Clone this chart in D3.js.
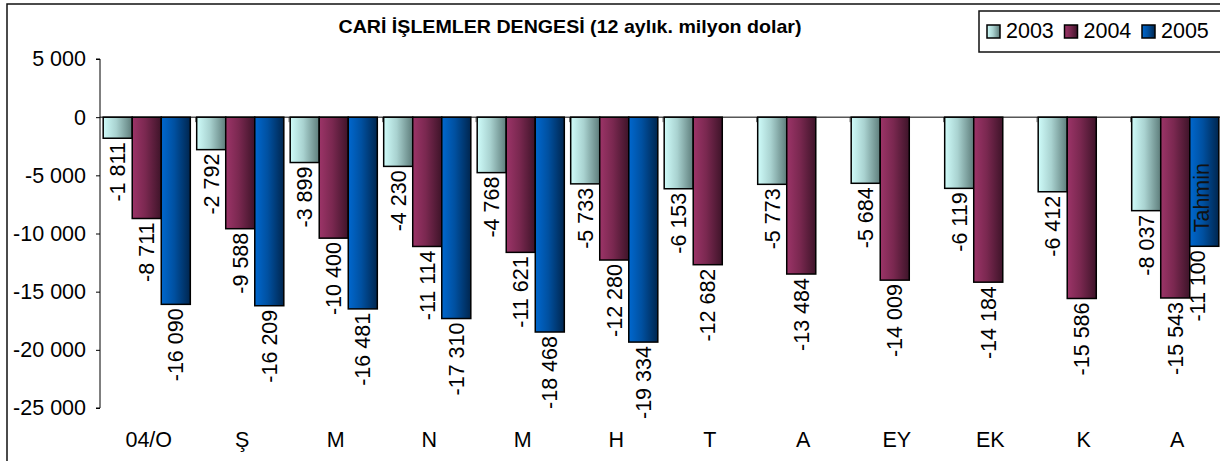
<!doctype html>
<html>
<head>
<meta charset="utf-8">
<script src="https://d3js.org/d3.v7.min.js"></script>
<style>
  body { margin: 0; background: #fff; }
  svg { display: block; font-family: "Liberation Sans", Arial, sans-serif; }
</style>
</head>
<body>
<svg id="chart" width="1220" height="461"></svg>
<script>
// chart data
var months = ["04/O", "Ş", "M", "N", "M", "H", "T", "A", "EY", "EK", "K", "A"];
var years = ["2003", "2004", "2005"];
var v2003 = [-1811, -2792, -3899, -4230, -4768, -5733, -6153, -5773, -5684, -6119, -6412, -8037];
var v2004 = [-8711, -9588, -10400, -11114, -11621, -12280, -12682, -13484, -14009, -14184, -15586, -15543];
var v2005 = [-16090, -16209, -16481, -17310, -18468, -19334, null, null, null, null, null, -11100];
var yTicks = [5000, 0, -5000, -10000, -15000, -20000, -25000];
var notes = [{ month: 11, year: 2, text: "Tahmin" }];
var title = "CARİ İŞLEMLER DENGESİ (12 aylık. milyon dolar)";

var series = [v2003, v2004, v2005];
var colors = [
  ["#cffcfa", "#a9d2d0", "#5e7d7b"],
  ["#9c3468", "#7a2850", "#3e1429"],
  ["#0068cf", "#0050a0", "#00264f"]
];

var svg = d3.select("#chart");
var W = 1220;
var FS = 21.5;

// number format with space as thousands separator
var loc = d3.formatLocale({ decimal: ",", thousands: " ", grouping: [3], currency: ["", ""], minus: "-" });
var fmt = loc.format(",d");

// gradients
var defs = svg.append("defs");
colors.forEach(function(c, i) {
  var g = defs.append("linearGradient").attr("id", "grad" + i)
    .attr("x1", "0%").attr("x2", "100%").attr("y1", "0%").attr("y2", "0%");
  g.append("stop").attr("offset", "0%").attr("stop-color", c[0]);
  g.append("stop").attr("offset", "45%").attr("stop-color", c[1]);
  g.append("stop").attr("offset", "100%").attr("stop-color", c[2]);
});

// scales
var x = d3.scaleBand().domain(d3.range(months.length)).range([100, 1222]).padding(0);
var xs = d3.scaleBand().domain(d3.range(years.length)).range([0, x.bandwidth()]).paddingOuter(0.11);
var y = d3.scaleLinear().domain([-25000, 5000]).range([408, 59]);

// outer frame (cropped)
svg.append("rect").attr("x", 7).attr("y", 4).attr("width", W + 20).attr("height", 500)
  .attr("fill", "none").attr("stroke", "#111").attr("stroke-width", 1.5);

// title
svg.append("text").attr("x", 570).attr("y", 33).attr("text-anchor", "middle")
  .attr("font-size", 18.5).attr("font-weight", "bold")
  .attr("textLength", 463).attr("lengthAdjust", "spacingAndGlyphs")
  .text(title);

// y axis
var yAxis = svg.append("g").attr("transform", "translate(100,0)")
  .call(d3.axisLeft(y).tickValues(yTicks).tickSize(4).tickPadding(10).tickFormat(fmt));
yAxis.select(".domain").attr("stroke", "#000").attr("d", "M-4," + y(5000) + "H0V" + y(-25000) + "H-4");
yAxis.selectAll(".tick line").attr("stroke", "#000");
yAxis.selectAll("text").attr("font-size", FS).attr("fill", "#000")
  .attr("font-family", "Liberation Sans, Arial, sans-serif");

// category tick marks at zero line
svg.append("g").selectAll("line").data(d3.range(1, months.length)).enter().append("line")
  .attr("x1", function(d) { return x(d) + 2; }).attr("x2", function(d) { return x(d) + 2; })
  .attr("y1", y(0)).attr("y2", y(0) + 5).attr("stroke", "#777");

// bars
var groups = svg.append("g").selectAll("g").data(months).enter().append("g")
  .attr("transform", function(d, i) { return "translate(" + x(i) + ",0)"; });

groups.each(function(m, i) {
  var g = d3.select(this);
  series.forEach(function(s, j) {
    var v = s[i];
    if (v == null) return;
    g.append("rect")
      .attr("x", xs(j)).attr("width", xs.bandwidth())
      .attr("y", y(0)).attr("height", y(v) - y(0))
      .attr("fill", "url(#grad" + j + ")")
      .attr("stroke", "#000").attr("stroke-width", 1.5);
  });
});

// zero line
svg.append("line").attr("x1", 100).attr("x2", W).attr("y1", y(0)).attr("y2", y(0))
  .attr("stroke", "#000").attr("stroke-width", 1);

// data labels
groups.each(function(m, i) {
  var g = d3.select(this);
  series.forEach(function(s, j) {
    var v = s[i];
    if (v == null) return;
    var cx = x(i) + xs(j) + xs.bandwidth() / 2;
    cx = Math.min(cx, W - 23);
    svg.append("text")
      .attr("transform", "translate(" + cx + "," + (y(v) + 4) + ") rotate(-90)")
      .attr("text-anchor", "end").attr("dy", "0.35em")
      .attr("font-size", FS).text(fmt(v));
  });
});

// notes inside bars
notes.forEach(function(n) {
  var v = series[n.year][n.month];
  var cx = x(n.month) + xs(n.year) + xs.bandwidth() / 2;
  svg.append("text")
    .attr("transform", "translate(" + (cx - 3) + "," + (y(v) - 14) + ") rotate(-90)")
    .attr("text-anchor", "start").attr("dy", "0.35em")
    .attr("font-size", FS).attr("fill", "#111").text(n.text);
});

// category labels
svg.append("g").selectAll("text").data(months).enter().append("text")
  .attr("x", function(d, i) { return x(i) + x.bandwidth() / 2 + 2; })
  .attr("y", 447).attr("text-anchor", "middle").attr("font-size", FS)
  .text(function(d) { return d; });

// legend
var lg = svg.append("g");
lg.append("rect").attr("x", 979).attr("y", 11).attr("width", 260).attr("height", 41)
  .attr("fill", "#fff").attr("stroke", "#111").attr("stroke-width", 1.5);
years.forEach(function(yr, j) {
  var lx = 987 + j * 77.5;
  lg.append("rect").attr("x", lx).attr("y", 25).attr("width", 13).attr("height", 13)
    .attr("fill", "url(#grad" + j + ")").attr("stroke", "#000").attr("stroke-width", 1.5);
  lg.append("text").attr("x", lx + 19).attr("y", 38).attr("font-size", FS).text(yr);
});
</script>
</body>
</html>
